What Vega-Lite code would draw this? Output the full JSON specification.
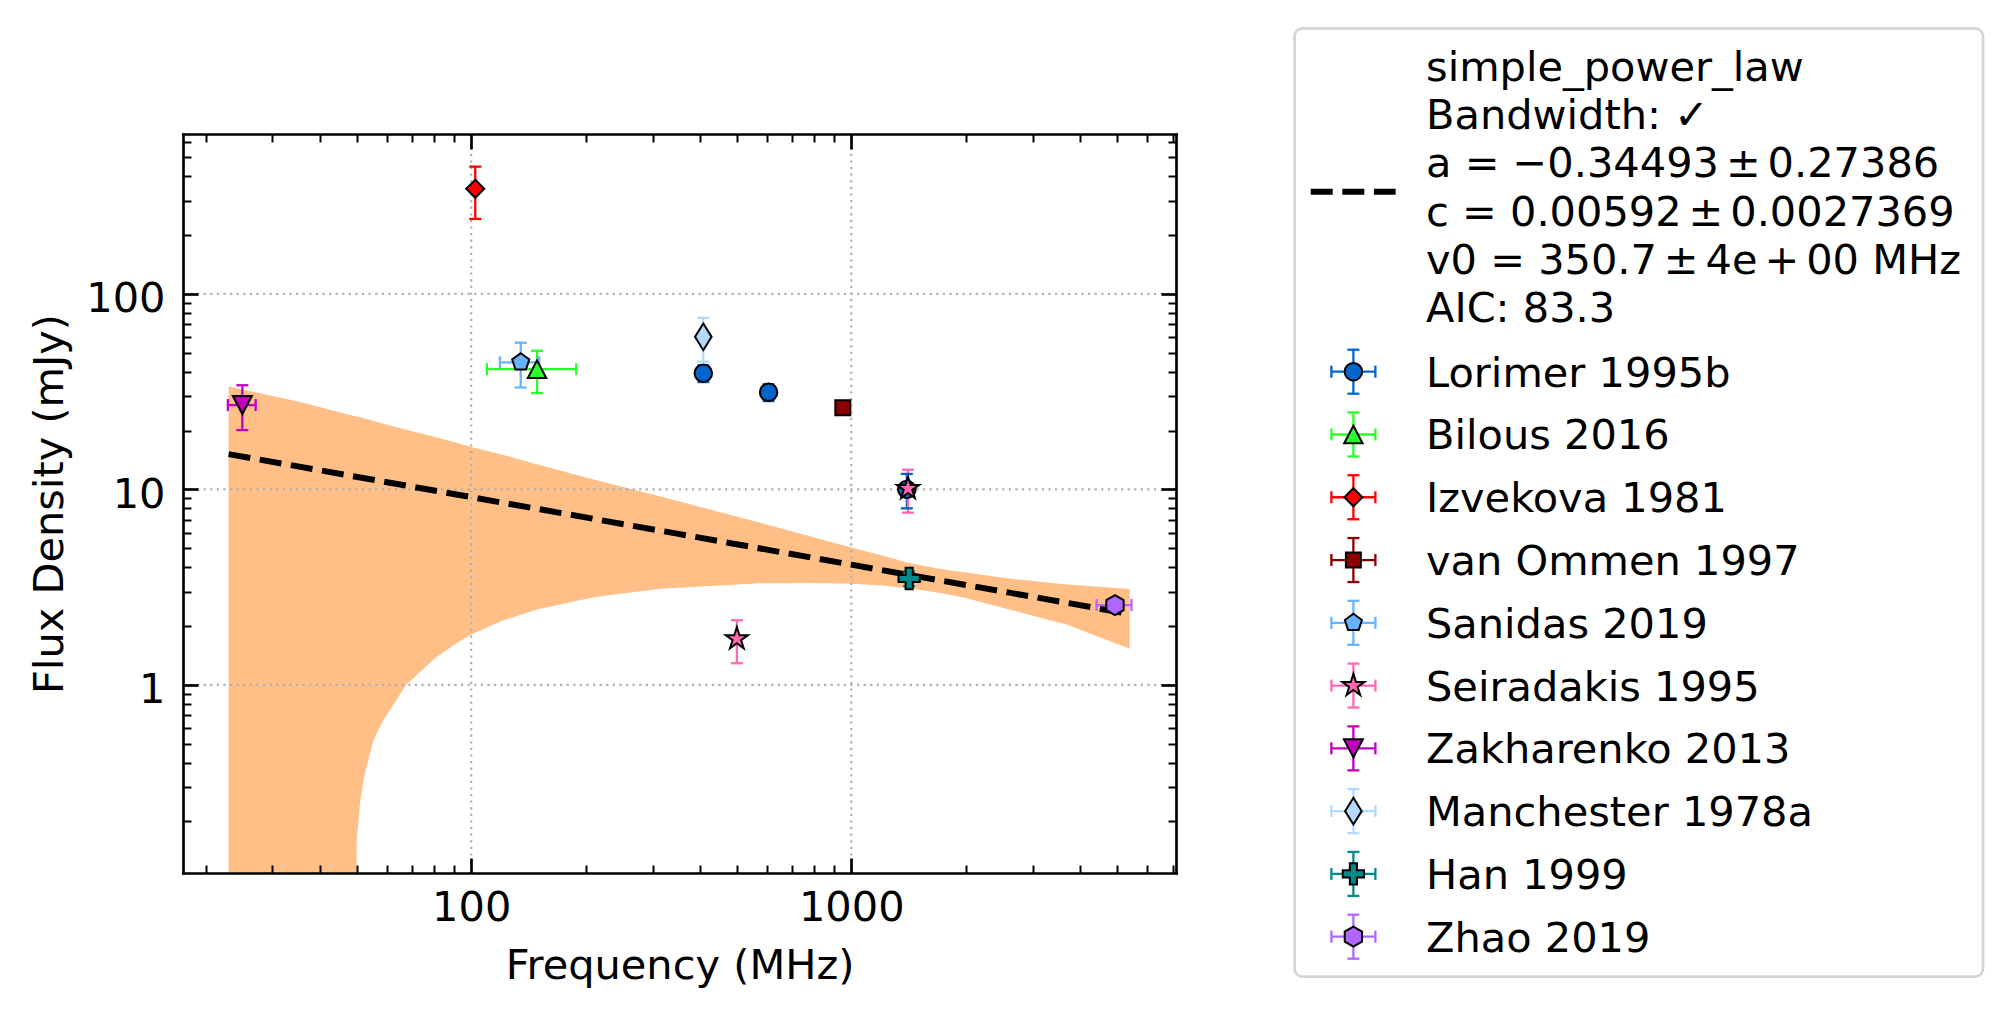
{
  "$schema": "https://vega.github.io/schema/vega-lite/v6.json",
  "width": 993,
  "height": 739,
  "autosize": {"type": "none"},
  "padding": {"left": 183, "top": 134, "right": 836, "bottom": 145},
  "background": "white",
  "config": {"font": "DejaVu Sans", "view": {"stroke": null}},
  "datasets": {
    "points": [
      {"ref": "Lorimer 1995b", "freq": 408, "flux": 39.3, "fluxLo": 35.4, "fluxHi": 43.2},
      {"ref": "Lorimer 1995b", "freq": 606, "flux": 31.4, "fluxLo": 28.3, "fluxHi": 34.5},
      {"ref": "Lorimer 1995b", "freq": 1400, "flux": 10.0, "fluxLo": 8.0, "fluxHi": 12.0},
      {"ref": "Sanidas 2019", "freq": 135, "flux": 44.7, "fluxLo": 33.2, "fluxHi": 56.3, "freqLo": 119, "freqHi": 151},
      {"ref": "Bilous 2016", "freq": 149, "flux": 41.2, "fluxLo": 31.1, "fluxHi": 51.2, "freqLo": 110, "freqHi": 189},
      {"ref": "Izvekova 1981", "freq": 102.5, "flux": 345, "fluxLo": 242, "fluxHi": 448},
      {"ref": "van Ommen 1997", "freq": 950, "flux": 26.2, "fluxLo": 24.2, "fluxHi": 28.2},
      {"ref": "Seiradakis 1995", "freq": 1410, "flux": 10.1, "fluxLo": 7.6, "fluxHi": 12.6},
      {"ref": "Seiradakis 1995", "freq": 500, "flux": 1.72, "fluxLo": 1.29, "fluxHi": 2.14},
      {"ref": "Zakharenko 2013", "freq": 25, "flux": 27.0, "fluxLo": 20.1, "fluxHi": 34.1, "freqLo": 22.9, "freqHi": 27.1},
      {"ref": "Manchester 1978a", "freq": 408, "flux": 60.3, "fluxLo": 45.0, "fluxHi": 75.5},
      {"ref": "Han 1999", "freq": 1420, "flux": 3.5, "fluxLo": 3.2, "fluxHi": 3.8},
      {"ref": "Zhao 2019", "freq": 4940, "flux": 2.56, "fluxLo": 2.36, "fluxHi": 2.76, "freqLo": 4420, "freqHi": 5460}
    ],
    "band": [
      {"freq": 23, "upper": 33.6, "lower": 0.01},
      {"freq": 35, "upper": 28.2, "lower": 0.01},
      {"freq": 49.5, "upper": 23.7, "lower": 0.01},
      {"freq": 50.0, "upper": 23.6, "lower": 0.16},
      {"freq": 51, "upper": 23.4, "lower": 0.25},
      {"freq": 52.3, "upper": 23.1, "lower": 0.34},
      {"freq": 55.3, "upper": 22.4, "lower": 0.52},
      {"freq": 58.7, "upper": 21.7, "lower": 0.66},
      {"freq": 67.5, "upper": 20.2, "lower": 1.0},
      {"freq": 80, "upper": 18.6, "lower": 1.36},
      {"freq": 90, "upper": 17.5, "lower": 1.6},
      {"freq": 100, "upper": 16.5, "lower": 1.81},
      {"freq": 120, "upper": 15.1, "lower": 2.12},
      {"freq": 148, "upper": 13.5, "lower": 2.42},
      {"freq": 194, "upper": 11.7, "lower": 2.72},
      {"freq": 219, "upper": 11.0, "lower": 2.84},
      {"freq": 315, "upper": 9.2, "lower": 3.1},
      {"freq": 576, "upper": 6.75, "lower": 3.31},
      {"freq": 800, "upper": 5.67, "lower": 3.32},
      {"freq": 1000, "upper": 5.05, "lower": 3.29},
      {"freq": 1200, "upper": 4.6, "lower": 3.22},
      {"freq": 1420, "upper": 4.2, "lower": 3.12},
      {"freq": 1700, "upper": 3.93, "lower": 2.96},
      {"freq": 2000, "upper": 3.76, "lower": 2.78},
      {"freq": 2600, "upper": 3.5, "lower": 2.43},
      {"freq": 3700, "upper": 3.26, "lower": 2.03},
      {"freq": 5400, "upper": 3.09, "lower": 1.53}
    ],
    "fit": [
      {"freq": 23, "flux": 15.15},
      {"freq": 100, "flux": 9.13},
      {"freq": 350.7, "flux": 5.92},
      {"freq": 1000, "flux": 4.12},
      {"freq": 5400, "flux": 2.305}
    ],
    "series": [
      {"ref": "Lorimer 1995b"}, {"ref": "Bilous 2016"}, {"ref": "Izvekova 1981"}, {"ref": "van Ommen 1997"},
      {"ref": "Sanidas 2019"}, {"ref": "Seiradakis 1995"}, {"ref": "Zakharenko 2013"}, {"ref": "Manchester 1978a"},
      {"ref": "Han 1999"}, {"ref": "Zhao 2019"}
    ],
    "gridX": [{"freq": 100}, {"freq": 1000}],
    "gridY": [{"flux": 1}, {"flux": 10}, {"flux": 100}]
  },
  "layer": [
    {
      "layer": [
        {
          "data": {"name": "band"},
          "mark": {"type": "area", "fill": "#ffbf87", "opacity": 1, "clip": true},
          "encoding": {
            "x": {"field": "freq", "type": "quantitative", "scale": {"type": "log", "domain": [17.45, 7150], "nice": false},
              "axis": {"orient": "bottom", "values": [100, 1000], "format": "d", "ticks": false, "tickSize": 0, "domain": true, "domainColor": "black", "domainWidth": 2.7, "domainCap": "square", "grid": false, "labelFont": "DejaVu Sans", "labelFontSize": 41.5, "labelColor": "black", "labelBaseline": "alphabetic", "labelPadding": 47.4, "labelFlush": false, "labelOverlap": false, "title": "Frequency (MHz)", "titleFont": "DejaVu Sans", "titleFontSize": 41.5, "titleFontWeight": "normal", "titleColor": "black", "titleBaseline": "alphabetic", "titleAlign": "center", "titleX": 496.5, "titleY": 105, "zindex": 1}},
            "y": {"field": "upper", "type": "quantitative", "scale": {"type": "log", "domain": [0.109, 658], "nice": false},
              "axis": {"orient": "left", "values": [1, 10, 100], "format": "d", "ticks": false, "tickSize": 0, "domain": true, "domainColor": "black", "domainWidth": 2.7, "domainCap": "square", "grid": false, "labelFont": "DejaVu Sans", "labelFontSize": 41.5, "labelColor": "black", "labelBaseline": "alphabetic", "labelPadding": 18, "labelOffset": 17.7, "labelFlush": false, "labelOverlap": false, "title": "Flux Density (mJy)", "titleFont": "DejaVu Sans", "titleFontSize": 41.5, "titleFontWeight": "normal", "titleColor": "black", "titleBaseline": "alphabetic", "titleAlign": "center", "titleAngle": 270, "titleX": -121, "titleY": 369.5, "zindex": 1}},
            "y2": {"field": "lower"}
          }
        },
        {
          "data": {"name": "gridX"},
          "mark": {"type": "rule", "stroke": "#b0b0b0", "strokeWidth": 2.2, "strokeDash": [2.2, 4.4]},
          "encoding": {
            "x": {"field": "freq", "type": "quantitative", "scale": {"type": "log", "domain": [17.45, 7150], "nice": false}, "axis": null}
          }
        },
        {
          "data": {"name": "gridY"},
          "mark": {"type": "rule", "stroke": "#b0b0b0", "strokeWidth": 2.2, "strokeDash": [2.2, 4.4]},
          "encoding": {
            "y": {"field": "flux", "type": "quantitative", "scale": {"type": "log", "domain": [0.109, 658], "nice": false}, "axis": null}
          }
        },
        {
          "data": {"name": "fit"},
          "mark": {"type": "line", "stroke": "black", "strokeWidth": 6, "strokeDash": [22, 9.6], "clip": true},
          "encoding": {
            "x": {"field": "freq", "type": "quantitative", "scale": {"type": "log", "domain": [17.45, 7150], "nice": false},
              "axis": {"orient": "top", "ticks": false, "labels": false, "domain": true, "domainColor": "black", "domainWidth": 2.7, "domainCap": "square", "grid": false, "title": null, "zindex": 1}},
            "y": {"field": "flux", "type": "quantitative", "scale": {"type": "log", "domain": [0.109, 658], "nice": false},
              "axis": {"orient": "right", "ticks": false, "labels": false, "domain": true, "domainColor": "black", "domainWidth": 2.7, "domainCap": "square", "grid": false, "title": null, "zindex": 1}}
          }
        },
        {
          "data": {"name": "points"},
          "mark": {"type": "rule", "strokeWidth": 2.3},
          "encoding": {
            "x": {"field": "freq", "type": "quantitative", "scale": {"type": "log", "domain": [17.45, 7150], "nice": false},
              "axis": {"orient": "bottom", "values": [100, 1000], "offset": -15, "ticks": true, "tickSize": 15, "tickWidth": 2.7, "tickColor": "black", "labels": false, "domain": false, "grid": false, "title": null, "zindex": 1}},
            "y": {"field": "fluxLo", "type": "quantitative", "scale": {"type": "log", "domain": [0.109, 658], "nice": false},
              "axis": {"orient": "left", "values": [1, 10, 100], "offset": -15, "ticks": true, "tickSize": 15, "tickWidth": 2.7, "tickColor": "black", "labels": false, "domain": false, "grid": false, "title": null, "zindex": 1}},
            "y2": {"field": "fluxHi"},
            "color": {"field": "ref", "type": "nominal", "legend": null,
              "scale": {"domain": ["Lorimer 1995b", "Bilous 2016", "Izvekova 1981", "van Ommen 1997", "Sanidas 2019", "Seiradakis 1995", "Zakharenko 2013", "Manchester 1978a", "Han 1999", "Zhao 2019"],
                "range": ["#0066cc", "#2bff2b", "#ff0000", "#8b0000", "#66b3ff", "#ff69b4", "#bf00bf", "#b3d9ff", "#008b8b", "#b266ff"]}}
          }
        },
        {
          "data": {"name": "points"},
          "transform": [{"filter": "isValid(datum.freqLo)"}],
          "mark": {"type": "rule", "strokeWidth": 2.3},
          "encoding": {
            "x": {"field": "freqLo", "type": "quantitative", "scale": {"type": "log", "domain": [17.45, 7150], "nice": false},
              "axis": {"orient": "top", "values": [100, 1000], "offset": -15, "ticks": true, "tickSize": 15, "tickWidth": 2.7, "tickColor": "black", "labels": false, "domain": false, "grid": false, "title": null, "zindex": 1}},
            "x2": {"field": "freqHi"},
            "y": {"field": "flux", "type": "quantitative", "scale": {"type": "log", "domain": [0.109, 658], "nice": false},
              "axis": {"orient": "right", "values": [1, 10, 100], "offset": -15, "ticks": true, "tickSize": 15, "tickWidth": 2.7, "tickColor": "black", "labels": false, "domain": false, "grid": false, "title": null, "zindex": 1}},
            "color": {"field": "ref", "type": "nominal", "legend": null,
              "scale": {"domain": ["Lorimer 1995b", "Bilous 2016", "Izvekova 1981", "van Ommen 1997", "Sanidas 2019", "Seiradakis 1995", "Zakharenko 2013", "Manchester 1978a", "Han 1999", "Zhao 2019"],
                "range": ["#0066cc", "#2bff2b", "#ff0000", "#8b0000", "#66b3ff", "#ff69b4", "#bf00bf", "#b3d9ff", "#008b8b", "#b266ff"]}}
          }
        },
        {
          "data": {"name": "points"},
          "mark": {"type": "tick", "orient": "horizontal", "size": 12, "thickness": 2.3, "opacity": 1},
          "encoding": {
            "x": {"field": "freq", "type": "quantitative", "scale": {"type": "log", "domain": [17.45, 7150], "nice": false},
              "axis": {"orient": "bottom", "values": [20, 30, 40, 50, 60, 70, 80, 90, 200, 300, 400, 500, 600, 700, 800, 900, 2000, 3000, 4000, 5000, 6000, 7000], "offset": -8, "ticks": true, "tickSize": 8, "tickWidth": 2, "tickColor": "black", "labels": false, "domain": false, "grid": false, "title": null, "zindex": 1}},
            "y": {"field": "fluxLo", "type": "quantitative", "scale": {"type": "log", "domain": [0.109, 658], "nice": false},
              "axis": {"orient": "left", "values": [0.2, 0.3, 0.4, 0.5, 0.6, 0.7, 0.8, 0.9, 2, 3, 4, 5, 6, 7, 8, 9, 20, 30, 40, 50, 60, 70, 80, 90, 200, 300, 400, 500, 600], "offset": -8, "ticks": true, "tickSize": 8, "tickWidth": 2, "tickColor": "black", "labels": false, "domain": false, "grid": false, "title": null, "zindex": 1}},
            "color": {"field": "ref", "type": "nominal", "legend": null,
              "scale": {"domain": ["Lorimer 1995b", "Bilous 2016", "Izvekova 1981", "van Ommen 1997", "Sanidas 2019", "Seiradakis 1995", "Zakharenko 2013", "Manchester 1978a", "Han 1999", "Zhao 2019"],
                "range": ["#0066cc", "#2bff2b", "#ff0000", "#8b0000", "#66b3ff", "#ff69b4", "#bf00bf", "#b3d9ff", "#008b8b", "#b266ff"]}}
          }
        },
        {
          "data": {"name": "points"},
          "mark": {"type": "tick", "orient": "horizontal", "size": 12, "thickness": 2.3, "opacity": 1},
          "encoding": {
            "x": {"field": "freq", "type": "quantitative", "scale": {"type": "log", "domain": [17.45, 7150], "nice": false},
              "axis": {"orient": "top", "values": [20, 30, 40, 50, 60, 70, 80, 90, 200, 300, 400, 500, 600, 700, 800, 900, 2000, 3000, 4000, 5000, 6000, 7000], "offset": -8, "ticks": true, "tickSize": 8, "tickWidth": 2, "tickColor": "black", "labels": false, "domain": false, "grid": false, "title": null, "zindex": 1}},
            "y": {"field": "fluxHi", "type": "quantitative", "scale": {"type": "log", "domain": [0.109, 658], "nice": false},
              "axis": {"orient": "right", "values": [0.2, 0.3, 0.4, 0.5, 0.6, 0.7, 0.8, 0.9, 2, 3, 4, 5, 6, 7, 8, 9, 20, 30, 40, 50, 60, 70, 80, 90, 200, 300, 400, 500, 600], "offset": -8, "ticks": true, "tickSize": 8, "tickWidth": 2, "tickColor": "black", "labels": false, "domain": false, "grid": false, "title": null, "zindex": 1}},
            "color": {"field": "ref", "type": "nominal", "legend": null,
              "scale": {"domain": ["Lorimer 1995b", "Bilous 2016", "Izvekova 1981", "van Ommen 1997", "Sanidas 2019", "Seiradakis 1995", "Zakharenko 2013", "Manchester 1978a", "Han 1999", "Zhao 2019"],
                "range": ["#0066cc", "#2bff2b", "#ff0000", "#8b0000", "#66b3ff", "#ff69b4", "#bf00bf", "#b3d9ff", "#008b8b", "#b266ff"]}}
          }
        },
        {
          "data": {"name": "points"},
          "transform": [{"filter": "isValid(datum.freqLo)"}],
          "mark": {"type": "tick", "orient": "vertical", "size": 12, "thickness": 2.3, "opacity": 1},
          "encoding": {
            "x": {"field": "freqLo", "type": "quantitative", "scale": {"type": "log", "domain": [17.45, 7150], "nice": false}, "axis": null},
            "y": {"field": "flux", "type": "quantitative", "scale": {"type": "log", "domain": [0.109, 658], "nice": false}, "axis": null},
            "color": {"field": "ref", "type": "nominal", "legend": null,
              "scale": {"domain": ["Lorimer 1995b", "Bilous 2016", "Izvekova 1981", "van Ommen 1997", "Sanidas 2019", "Seiradakis 1995", "Zakharenko 2013", "Manchester 1978a", "Han 1999", "Zhao 2019"],
                "range": ["#0066cc", "#2bff2b", "#ff0000", "#8b0000", "#66b3ff", "#ff69b4", "#bf00bf", "#b3d9ff", "#008b8b", "#b266ff"]}}
          }
        },
        {
          "data": {"name": "points"},
          "transform": [{"filter": "isValid(datum.freqHi)"}],
          "mark": {"type": "tick", "orient": "vertical", "size": 12, "thickness": 2.3, "opacity": 1},
          "encoding": {
            "x": {"field": "freqHi", "type": "quantitative", "scale": {"type": "log", "domain": [17.45, 7150], "nice": false}, "axis": null},
            "y": {"field": "flux", "type": "quantitative", "scale": {"type": "log", "domain": [0.109, 658], "nice": false}, "axis": null},
            "color": {"field": "ref", "type": "nominal", "legend": null,
              "scale": {"domain": ["Lorimer 1995b", "Bilous 2016", "Izvekova 1981", "van Ommen 1997", "Sanidas 2019", "Seiradakis 1995", "Zakharenko 2013", "Manchester 1978a", "Han 1999", "Zhao 2019"],
                "range": ["#0066cc", "#2bff2b", "#ff0000", "#8b0000", "#66b3ff", "#ff69b4", "#bf00bf", "#b3d9ff", "#008b8b", "#b266ff"]}}
          }
        },
        {
          "data": {"name": "points"},
          "mark": {"type": "point", "filled": true, "opacity": 1, "size": 400, "stroke": "black", "strokeWidth": 2},
          "encoding": {
            "x": {"field": "freq", "type": "quantitative", "scale": {"type": "log", "domain": [17.45, 7150], "nice": false}, "axis": null},
            "y": {"field": "flux", "type": "quantitative", "scale": {"type": "log", "domain": [0.109, 658], "nice": false}, "axis": null},
            "fill": {"field": "ref", "type": "nominal", "legend": null,
              "scale": {"domain": ["Lorimer 1995b", "Bilous 2016", "Izvekova 1981", "van Ommen 1997", "Sanidas 2019", "Seiradakis 1995", "Zakharenko 2013", "Manchester 1978a", "Han 1999", "Zhao 2019"],
                "range": ["#0066cc", "#2bff2b", "#ff0000", "#8b0000", "#66b3ff", "#ff69b4", "#bf00bf", "#b3d9ff", "#008b8b", "#b266ff"]}},
            "shape": {"field": "ref", "type": "nominal", "legend": null,
              "scale": {"domain": ["Lorimer 1995b", "Bilous 2016", "Izvekova 1981", "van Ommen 1997", "Sanidas 2019", "Seiradakis 1995", "Zakharenko 2013", "Manchester 1978a", "Han 1999", "Zhao 2019"],
                "range": [
                  "M0.875,0A0.875,0.875,0,1,1,-0.875,0A0.875,0.875,0,1,1,0.875,0Z",
                  "M0,-0.88L0.92,0.88L-0.92,0.88Z",
                  "M0,-0.9L0.9,0L0,0.9L-0.9,0Z",
                  "M-0.75,-0.75L0.75,-0.75L0.75,0.75L-0.75,0.75Z",
                  "M0,-0.9L0.856,-0.278L0.529,0.728L-0.529,0.728L-0.856,-0.278Z",
                  "M0,-1.17L0.263,-0.362L1.113,-0.362L0.425,0.138L0.688,0.947L0,0.447L-0.688,0.947L-0.425,0.138L-1.113,-0.362L-0.263,-0.362Z",
                  "M0,0.9L-0.95,-0.9L0.95,-0.9Z",
                  "M0,-1.33L0.83,0L0,1.33L-0.83,0Z",
                  "M-0.355,-1.065L0.355,-1.065L0.355,-0.355L1.065,-0.355L1.065,0.355L0.355,0.355L0.355,1.065L-0.355,1.065L-0.355,0.355L-1.065,0.355L-1.065,-0.355L-0.355,-0.355Z",
                  "M0,-1L0.866,-0.5L0.866,0.5L0,1L-0.866,0.5L-0.866,-0.5Z"
                ]}}
          }
        }
      ],
      "resolve": {"axis": {"x": "independent", "y": "independent"}}
    },
    {
      "layer": [
        {
          "data": {"values": [{}]},
          "layer": [
            {
              "mark": {"type": "rect", "fill": "white", "stroke": "#d5d5d5", "strokeWidth": 2.7, "cornerRadius": 8},
              "encoding": {
                "x": {"datum": 0, "type": "quantitative", "scale": {"type": "linear", "domain": [0, 1], "range": [1111.6, 1800], "nice": false, "zero": false}, "axis": null},
                "x2": {"datum": 1},
                "y": {"datum": 0, "type": "quantitative", "scale": {"type": "linear", "domain": [0, 1], "range": [-105.7, 842.7], "nice": false, "zero": false}, "axis": null},
                "y2": {"datum": 1}
              }
            },
            {
              "mark": {"type": "rule", "stroke": "black", "strokeWidth": 6, "strokeDash": [22, 9.6]},
              "encoding": {
                "x": {"datum": 0.0234, "type": "quantitative", "scale": {"type": "linear", "domain": [0, 1], "range": [1111.6, 1800], "nice": false, "zero": false}, "axis": null},
                "x2": {"datum": 0.1467},
                "y": {"datum": 0.1723, "type": "quantitative", "scale": {"type": "linear", "domain": [0, 1], "range": [-105.7, 842.7], "nice": false, "zero": false}, "axis": null}
              }
            },
            {
              "mark": {"type": "text", "text": ["simple_power_law", "Bandwidth: ✓", "a = −0.34493\u2006±\u20060.27386", "c = 0.00592\u2006±\u20060.0027369", "v0 = 350.7\u2006±\u20064e\u2006+\u200600 MHz", "AIC: 83.3"],
                "align": "left", "baseline": "alphabetic", "lineHeight": 48.3, "font": "DejaVu Sans", "fontSize": 41.5, "color": "black"},
              "encoding": {
                "x": {"datum": 0.1909, "type": "quantitative", "scale": {"type": "linear", "domain": [0, 1], "range": [1111.6, 1800], "nice": false, "zero": false}, "axis": null},
                "y": {"datum": 0.05525, "type": "quantitative", "scale": {"type": "linear", "domain": [0, 1], "range": [-105.7, 842.7], "nice": false, "zero": false}, "axis": null}
              }
            }
          ]
        },
        {
          "data": {"name": "series"},
          "encoding": {
            "y": {"field": "ref", "type": "nominal", "axis": null,
              "scale": {"type": "point", "padding": 0, "range": [237.7, 802.7],
                "domain": ["Lorimer 1995b", "Bilous 2016", "Izvekova 1981", "van Ommen 1997", "Sanidas 2019", "Seiradakis 1995", "Zakharenko 2013", "Manchester 1978a", "Han 1999", "Zhao 2019"]}},
            "color": {"field": "ref", "type": "nominal", "legend": null,
              "scale": {"domain": ["Lorimer 1995b", "Bilous 2016", "Izvekova 1981", "van Ommen 1997", "Sanidas 2019", "Seiradakis 1995", "Zakharenko 2013", "Manchester 1978a", "Han 1999", "Zhao 2019"],
                "range": ["#0066cc", "#2bff2b", "#ff0000", "#8b0000", "#66b3ff", "#ff69b4", "#bf00bf", "#b3d9ff", "#008b8b", "#b266ff"]}}
          },
          "layer": [
            {
              "mark": {"type": "tick", "orient": "vertical", "size": 44, "thickness": 2.3, "opacity": 1},
              "encoding": {"x": {"datum": 0.0854, "type": "quantitative", "scale": {"type": "linear", "domain": [0, 1], "range": [1111.6, 1800], "nice": false, "zero": false}, "axis": null}}
            },
            {
              "mark": {"type": "tick", "orient": "horizontal", "size": 44, "thickness": 2.3, "opacity": 1},
              "encoding": {"x": {"datum": 0.0854, "type": "quantitative", "scale": {"type": "linear", "domain": [0, 1], "range": [1111.6, 1800], "nice": false, "zero": false}, "axis": null}}
            },
            {
              "mark": {"type": "tick", "orient": "horizontal", "size": 12, "thickness": 2.3, "opacity": 1, "yOffset": -22},
              "encoding": {"x": {"datum": 0.0854, "type": "quantitative", "scale": {"type": "linear", "domain": [0, 1], "range": [1111.6, 1800], "nice": false, "zero": false}, "axis": null}}
            },
            {
              "mark": {"type": "tick", "orient": "horizontal", "size": 12, "thickness": 2.3, "opacity": 1, "yOffset": 22},
              "encoding": {"x": {"datum": 0.0854, "type": "quantitative", "scale": {"type": "linear", "domain": [0, 1], "range": [1111.6, 1800], "nice": false, "zero": false}, "axis": null}}
            },
            {
              "mark": {"type": "tick", "orient": "vertical", "size": 12, "thickness": 2.3, "opacity": 1, "xOffset": -22},
              "encoding": {"x": {"datum": 0.0854, "type": "quantitative", "scale": {"type": "linear", "domain": [0, 1], "range": [1111.6, 1800], "nice": false, "zero": false}, "axis": null}}
            },
            {
              "mark": {"type": "tick", "orient": "vertical", "size": 12, "thickness": 2.3, "opacity": 1, "xOffset": 22},
              "encoding": {"x": {"datum": 0.0854, "type": "quantitative", "scale": {"type": "linear", "domain": [0, 1], "range": [1111.6, 1800], "nice": false, "zero": false}, "axis": null}}
            },
            {
              "mark": {"type": "point", "filled": true, "opacity": 1, "size": 400, "stroke": "black", "strokeWidth": 2},
              "encoding": {
                "x": {"datum": 0.0854, "type": "quantitative", "scale": {"type": "linear", "domain": [0, 1], "range": [1111.6, 1800], "nice": false, "zero": false}, "axis": null},
                "color": null,
                "fill": {"field": "ref", "type": "nominal", "legend": null,
                  "scale": {"domain": ["Lorimer 1995b", "Bilous 2016", "Izvekova 1981", "van Ommen 1997", "Sanidas 2019", "Seiradakis 1995", "Zakharenko 2013", "Manchester 1978a", "Han 1999", "Zhao 2019"],
                    "range": ["#0066cc", "#2bff2b", "#ff0000", "#8b0000", "#66b3ff", "#ff69b4", "#bf00bf", "#b3d9ff", "#008b8b", "#b266ff"]}},
                "shape": {"field": "ref", "type": "nominal", "legend": null,
                  "scale": {"domain": ["Lorimer 1995b", "Bilous 2016", "Izvekova 1981", "van Ommen 1997", "Sanidas 2019", "Seiradakis 1995", "Zakharenko 2013", "Manchester 1978a", "Han 1999", "Zhao 2019"],
                    "range": [
                      "M0.875,0A0.875,0.875,0,1,1,-0.875,0A0.875,0.875,0,1,1,0.875,0Z",
                      "M0,-0.88L0.92,0.88L-0.92,0.88Z",
                      "M0,-0.9L0.9,0L0,0.9L-0.9,0Z",
                      "M-0.75,-0.75L0.75,-0.75L0.75,0.75L-0.75,0.75Z",
                      "M0,-0.9L0.856,-0.278L0.529,0.728L-0.529,0.728L-0.856,-0.278Z",
                      "M0,-1.17L0.263,-0.362L1.113,-0.362L0.425,0.138L0.688,0.947L0,0.447L-0.688,0.947L-0.425,0.138L-1.113,-0.362L-0.263,-0.362Z",
                      "M0,0.9L-0.95,-0.9L0.95,-0.9Z",
                      "M0,-1.33L0.83,0L0,1.33L-0.83,0Z",
                      "M-0.355,-1.065L0.355,-1.065L0.355,-0.355L1.065,-0.355L1.065,0.355L0.355,0.355L0.355,1.065L-0.355,1.065L-0.355,0.355L-1.065,0.355L-1.065,-0.355L-0.355,-0.355Z",
                      "M0,-1L0.866,-0.5L0.866,0.5L0,1L-0.866,0.5L-0.866,-0.5Z"
                    ]}}
              }
            },
            {
              "mark": {"type": "text", "align": "left", "baseline": "alphabetic", "dy": 15, "font": "DejaVu Sans", "fontSize": 41.5},
              "encoding": {
                "x": {"datum": 0.1909, "type": "quantitative", "scale": {"type": "linear", "domain": [0, 1], "range": [1111.6, 1800], "nice": false, "zero": false}, "axis": null},
                "text": {"field": "ref"},
                "color": {"value": "black"}
              }
            }
          ]
        }
      ],
      "resolve": {"scale": {"y": "independent"}}
    }
  ],
  "resolve": {"scale": {"x": "independent", "y": "independent"}, "axis": {"x": "independent", "y": "independent"}}
}
